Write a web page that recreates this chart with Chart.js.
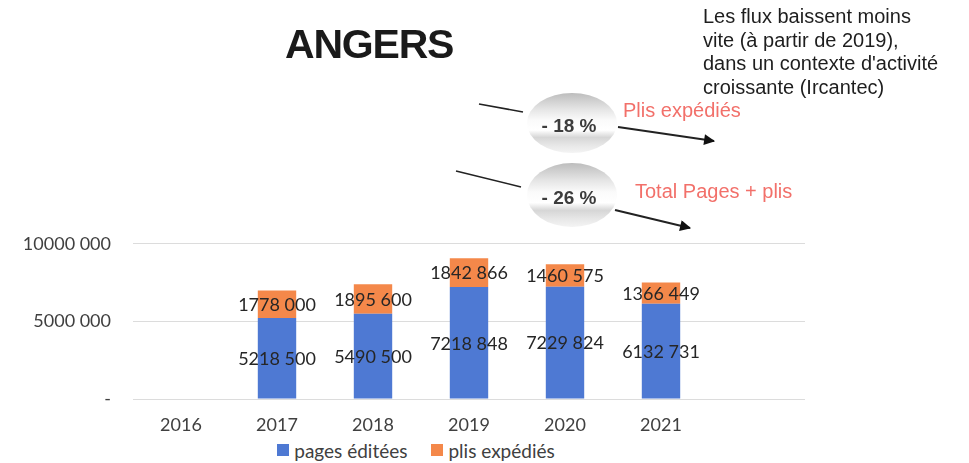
<!DOCTYPE html>
<html>
<head>
<meta charset="utf-8">
<script src="https://cdn.jsdelivr.net/npm/chart.js@4/dist/chart.umd.min.js"></script>
<style>
  html,body{margin:0;padding:0;background:#fff;width:969px;height:463px;overflow:hidden;}
  #wrap{position:absolute;left:0;top:211px;width:832px;height:228px;}
  #over{position:absolute;left:0;top:0;width:969px;height:463px;pointer-events:none;}
  #legend{position:absolute;left:0;width:832px;top:439px;height:22px;display:flex;justify-content:center;align-items:center;
          font-family:Lato,"Open Sans",sans-serif;font-size:19px;color:#404040;}
  #legend .it{display:flex;align-items:center;margin:0 12px;}
  #legend .sw{width:12px;height:12px;margin-right:5px;}
</style>
</head>
<body>
<div id="wrap"><canvas id="c"></canvas></div>
<div id="legend"></div>
<svg id="over" width="969" height="463" xmlns="http://www.w3.org/2000/svg">
  <defs>
    <linearGradient id="pill" x1="0" y1="0" x2="0" y2="1">
      <stop offset="0" stop-color="#bdbdbd"/>
      <stop offset="0.28" stop-color="#e6e6e6"/>
      <stop offset="0.45" stop-color="#fafafa"/>
      <stop offset="0.62" stop-color="#ffffff"/>
      <stop offset="0.74" stop-color="#d6d6d6"/>
      <stop offset="0.88" stop-color="#e8e8e8"/>
      <stop offset="1" stop-color="#f4f4f4"/>
    </linearGradient>
    <marker id="ah" viewBox="0 0 10 10" refX="9" refY="5" markerWidth="15" markerHeight="11" orient="auto" markerUnits="userSpaceOnUse">
      <path d="M0,0 L10,5 L0,10 z" fill="#111"/>
    </marker>
  </defs>
  <text x="285" y="58" font-family="Liberation Sans, Arial, sans-serif" font-weight="bold" font-size="41" letter-spacing="-1.2" fill="#1a1a1a">ANGERS</text>
  <g font-family="Liberation Sans, Arial, sans-serif" font-size="20" fill="#1e1e1e">
    <text x="703" y="23">Les flux baissent moins</text>
    <text x="703" y="46.5">vite (à partir de 2019),</text>
    <text x="703" y="70">dans un contexte d'activité</text>
    <text x="703" y="93.5">croissante (Ircantec)</text>
  </g>
  <ellipse cx="572" cy="123" rx="45" ry="30" fill="url(#pill)"/>
  <ellipse cx="572" cy="195" rx="45" ry="32" fill="url(#pill)"/>
  <g font-family="Liberation Sans, Arial, sans-serif" font-weight="bold" font-size="19" fill="#3c3c3c" text-anchor="middle">
    <text x="569" y="132">- 18 %</text>
    <text x="569" y="204">- 26 %</text>
  </g>
  <g stroke="#222" stroke-width="1.6" fill="none">
    <line x1="479" y1="104" x2="523" y2="112"/>
    <line x1="618" y1="127" x2="714" y2="141" stroke-width="2" marker-end="url(#ah)"/>
    <line x1="456" y1="171" x2="521" y2="187"/>
    <line x1="615" y1="210" x2="690" y2="228" stroke-width="2" marker-end="url(#ah)"/>
  </g>
  <g font-family="Liberation Sans, Arial, sans-serif" font-size="20" fill="#f2706a">
    <text x="623" y="117">Plis expédiés</text>
    <text x="635" y="198">Total Pages + plis</text>
  </g>
</svg>
<script>
const categories = ['2016', '2017', '2018', '2019', '2020', '2021', ''];
const pagesEditees = [null, 5218500, 5490500, 7218848, 7229824, 6132731, null];
const plisExpedies = [null, 1778000, 1895600, 1842866, 1460575, 1366449, null];
const yTicks = [0, 5000000, 10000000];
const seriesNames = ['pages éditées', 'plis expédiés'];
const seriesColors = ['#4e79d3', '#f4884a'];

function fmt(v){
  if (v === 0) return '-';
  const t = Math.floor(v / 1000), r = v % 1000;
  return t + ' ' + String(r).padStart(3, '0');
}

const labelPlugin = {
  id: 'segLabels',
  afterDatasetsDraw(chart){
    const ctx = chart.ctx;
    ctx.save();
    ctx.font = '18px Lato, "Open Sans", sans-serif';
    ctx.fillStyle = '#262626';
    ctx.textAlign = 'center';
    ctx.textBaseline = 'middle';
    chart.data.datasets.forEach((ds, i) => {
      const meta = chart.getDatasetMeta(i);
      meta.data.forEach((el, j) => {
        const v = ds.data[j];
        if (v == null) return;
        const p = el.getProps(['x', 'y', 'base'], true);
        ctx.fillText(fmt(v), p.x, (p.y + p.base) / 2 + 1);
      });
    });
    ctx.restore();
  }
};

const chart = new Chart(document.getElementById('c'), {
  type: 'bar',
  data: {
    labels: categories,
    datasets: [
      { label: seriesNames[0], data: pagesEditees, backgroundColor: seriesColors[0], categoryPercentage: 1, barPercentage: 0.4 },
      { label: seriesNames[1], data: plisExpedies, backgroundColor: seriesColors[1], categoryPercentage: 1, barPercentage: 0.4 }
    ]
  },
  options: {
    responsive: true,
    maintainAspectRatio: false,
    animation: false,
    layout: { padding: { top: 0, right: 27, left: 0, bottom: 0 } },
    plugins: {
      legend: { display: false },
      tooltip: { enabled: false }
    },
    scales: {
      x: {
        stacked: true,
        afterFit(scale){ scale.height = 40; },
        grid: { display: false, drawTicks: false },
        border: { display: false },
        ticks: { color: '#404040', padding: 15, font: { family: 'Lato, "Open Sans", sans-serif', size: 18 } }
      },
      y: {
        stacked: true,
        min: 0, max: 10000000,
        afterBuildTicks(scale){ scale.ticks = yTicks.map(v => ({ value: v })); },
        afterFit(scale){ scale.width = 133; },
        grid: { color: '#dcdcdc', lineWidth: 1, drawTicks: false },
        border: { display: false },
        ticks: {
          color: '#404040', padding: 22,
          font: { family: 'Lato, "Open Sans", sans-serif', size: 18 },
          callback: (v) => fmt(v)
        }
      }
    }
  },
  plugins: [labelPlugin]
});

const lg = document.getElementById('legend');
chart.data.datasets.forEach(ds => {
  const it = document.createElement('span');
  it.className = 'it';
  const sw = document.createElement('span');
  sw.className = 'sw';
  sw.style.background = ds.backgroundColor;
  const tx = document.createElement('span');
  tx.textContent = ds.label;
  it.appendChild(sw); it.appendChild(tx);
  lg.appendChild(it);
});
</script>
</body>
</html>
